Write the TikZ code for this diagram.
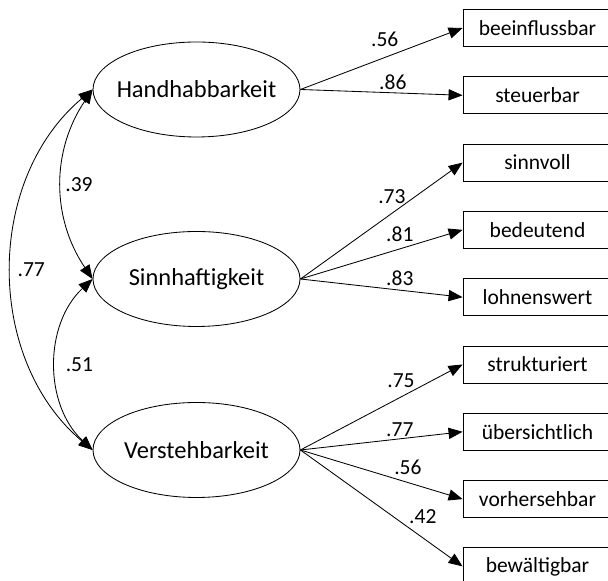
\documentclass[tikz,border=0pt]{standalone}
\usepackage{fontspec}
\setmainfont{Carlito}
\usetikzlibrary{shapes.geometric,arrows.meta}

\tikzset{
  latent/.style={ellipse,draw,line width=0.6pt,minimum width=5.175cm,minimum height=2.375cm,inner sep=0pt,font=\fontsize{17.4}{20}\selectfont},
  item/.style={rectangle,draw,line width=0.6pt,minimum width=3.725cm,minimum height=0.925cm,inner sep=0pt,font=\fontsize{15.3}{18}\selectfont},
  load/.style={line width=0.6pt,-{Triangle[length=3.5mm,width=2.8mm]}},
  cov/.style={line width=0.6pt,{Triangle[length=3.5mm,width=2.8mm]}-{Triangle[length=3.5mm,width=2.8mm]}},
  coef/.style={inner sep=1pt,font=\fontsize{15.3}{18}\selectfont}
}

\begin{document}
\begin{tikzpicture}
  \clip (0,0) rectangle (15.2,14.525);
  \node[latent] (hand) at (4.9125,12.2875) {\makebox[0pt]{Handhabbarkeit}};
  \node[latent] (sinn) at (4.9125,7.55) {\makebox[0pt]{Sinnhaftigkeit}};
  \node[latent] (vers) at (4.9125,3.275) {\makebox[0pt]{Verstehbarkeit}};
  \foreach \txt [count=\i] in {beeinflussbar,steuerbar,sinnvoll,bedeutend,lohnenswert,strukturiert,übersichtlich,vorhersehbar,bewältigbar} {
      \node[item] (i\i) at (13.4375,13.825-1.6825*\i+1.6825) {\txt};
  };
  % loadings
  \draw[load] (hand.east) -- node[coef,pos=0.52,above=0.23cm] {.56} (i1.west);
  \draw[load] (hand.east) -- node[coef,pos=0.57,above=0.035cm] {.86} (i2.west);
  \draw[load] (sinn.east) -- node[coef,pos=0.564,above=0.2cm] {.73} (i3.west);
  \draw[load] (sinn.east) -- node[coef,pos=0.613,above=0.14cm] {.81} (i4.west);
  \draw[load] (sinn.east) -- node[coef,pos=0.613,above=0.06cm] {.83} (i5.west);
  \draw[load] (vers.east) -- node[coef,pos=0.62,above=0.18cm] {.75} (i6.west);
  \draw[load] (vers.east) -- node[coef,pos=0.613,above=0.02cm] {.77} (i7.west);
  \draw[load] (vers.east) -- node[coef,pos=0.663,above=0.14cm] {.56} (i8.west);
  \draw[load] (vers.east) -- node[coef,pos=0.755,above=0.32cm] {.42} (i9.west);
  % correlations
  \draw[cov] (hand.west) to [bend right=34] node[coef,midway,right=0.05cm] {.39} (sinn.west);
  \draw[cov] (sinn.west) to [bend right=47] node[coef,midway,right=0.2cm] {.51} (vers.west);
  \draw[cov] (hand.west) to [bend right=50] node[coef,midway,right=0.1cm] {.77} (vers.west);
\end{tikzpicture}
\end{document}
